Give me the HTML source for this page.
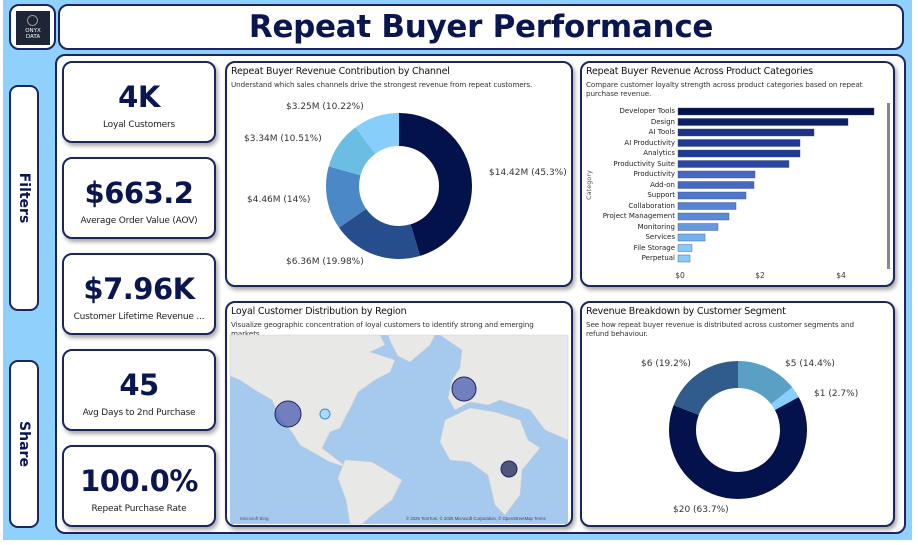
<!DOCTYPE html>
<html><head><meta charset="utf-8"><style>
*{margin:0;padding:0;box-sizing:border-box}
body{width:918px;height:545px;background:#fff;position:relative;overflow:hidden;font-family:"DejaVu Sans","Liberation Sans",sans-serif;color:#222}
.abs{position:absolute}
.bg{left:3px;top:0;width:909px;height:540px;background:#8fd0fc}
.box{position:absolute;background:#fff;border:2px solid #1b2560;border-radius:10px}
.card{position:absolute;background:#fff;border:2px solid #1b2560;border-radius:10px;box-shadow:2px 3px 4px rgba(0,0,0,.35)}
.kv{position:absolute;left:0;right:0;text-align:center;color:#0a1650;font-weight:bold;font-size:29px;letter-spacing:-0.5px}
.kl{position:absolute;left:0;right:0;text-align:center;font-size:9px;color:#222;letter-spacing:-0.2px}
.ct{position:absolute;left:4px;top:3px;font-size:9.5px;color:#111;letter-spacing:-0.2px}
.cs{position:absolute;left:4px;top:17px;font-size:7.2px;color:#333;line-height:9px;letter-spacing:-0.1px}
.lbl{position:absolute;font-size:9px;color:#333;white-space:nowrap}
.tab{position:absolute;background:#fff;border:2px solid #1b2560;border-radius:9px}
.tab span{position:absolute;left:50%;top:50%;transform:translate(-50%,-50%) rotate(90deg);font-weight:bold;font-size:14px;color:#0a1650;white-space:nowrap}
.cat{position:absolute;right:0;font-size:7px;color:#222;text-align:right;white-space:nowrap}
</style></head><body>
<div class="abs bg"></div>
<div class="box" style="left:9px;top:4px;width:47px;height:46px"><div class="abs" style="left:5px;top:5px;width:34px;height:34px;background:#1d2536;color:#fff;font-size:5.5px;text-align:center;line-height:6px;padding-top:17px">ONYX<br>DATA</div><div class="abs" style="left:16px;top:9px;width:11px;height:11px;border:1px solid #999;border-radius:50%"></div></div>
<div class="box" style="left:58px;top:4px;width:846px;height:46px"><div class="abs" style="left:0;right:0;top:0;text-align:center;font-size:31px;font-weight:bold;color:#0a1650;line-height:42px;letter-spacing:-0.3px">Repeat Buyer Performance</div></div>
<div class="tab" style="left:9px;top:85px;width:30px;height:226px"><span>Filters</span></div>
<div class="tab" style="left:9px;top:360px;width:30px;height:168px"><span>Share</span></div>
<div class="box" style="left:55px;top:54px;width:851px;height:480px"></div>

<div class="card" style="left:62px;top:61px;width:154px;height:82px"><div class="kv" style="top:17px">4K</div><div class="kl" style="top:57px">Loyal Customers</div></div>
<div class="card" style="left:62px;top:157px;width:154px;height:82px"><div class="kv" style="top:17px">$663.2</div><div class="kl" style="top:57px">Average Order Value (AOV)</div></div>
<div class="card" style="left:62px;top:253px;width:154px;height:82px"><div class="kv" style="top:17px">$7.96K</div><div class="kl" style="top:57px">Customer Lifetime Revenue ...</div></div>
<div class="card" style="left:62px;top:349px;width:154px;height:82px"><div class="kv" style="top:17px">45</div><div class="kl" style="top:57px">Avg Days to 2nd Purchase</div></div>
<div class="card" style="left:62px;top:445px;width:154px;height:82px"><div class="kv" style="top:17px">100.0%</div><div class="kl" style="top:57px">Repeat Purchase Rate</div></div>

<div class="card" style="left:225px;top:61px;width:348px;height:226px"><div class="ct">Repeat Buyer Revenue Contribution by Channel</div><div class="cs">Understand which sales channels drive the strongest revenue from repeat customers.</div></div>
<div class="card" style="left:580px;top:61px;width:315px;height:226px"><div class="ct">Repeat Buyer Revenue Across Product Categories</div><div class="cs">Compare customer loyalty strength across product categories based on repeat<br>purchase revenue.</div></div>
<div class="card" style="left:225px;top:301px;width:348px;height:226px"><div class="ct">Loyal Customer Distribution by Region</div><div class="cs">Visualize geographic concentration of loyal customers to identify strong and emerging<br>markets.</div></div>
<div class="card" style="left:580px;top:301px;width:315px;height:226px"><div class="ct">Revenue Breakdown by Customer Segment</div><div class="cs">See how repeat buyer revenue is distributed across customer segments and<br>refund behaviour.</div></div>

<svg class="abs" style="left:0;top:0" width="918" height="545">
<g transform="rotate(-90 399 186)" fill="none" stroke-width="33">
<circle cx="399" cy="186" r="56.5" stroke="#03124a" stroke-dasharray="160.8 400" stroke-dashoffset="0"/>
<circle cx="399" cy="186" r="56.5" stroke="#264e8c" stroke-dasharray="70.9 400" stroke-dashoffset="-160.8"/>
<circle cx="399" cy="186" r="56.5" stroke="#4a88c8" stroke-dasharray="49.7 400" stroke-dashoffset="-231.7"/>
<circle cx="399" cy="186" r="56.5" stroke="#6bbde4" stroke-dasharray="37.3 400" stroke-dashoffset="-281.4"/>
<circle cx="399" cy="186" r="56.5" stroke="#87cefa" stroke-dasharray="36.3 400" stroke-dashoffset="-318.7"/>
</g>
<g transform="rotate(-90 738 430)" fill="none" stroke-width="27">
<circle cx="738" cy="430" r="55.5" stroke="#5a9fc4" stroke-dasharray="50.2 400" stroke-dashoffset="0"/>
<circle cx="738" cy="430" r="55.5" stroke="#87cefa" stroke-dasharray="9.4 400" stroke-dashoffset="-50.2"/>
<circle cx="738" cy="430" r="55.5" stroke="#03124a" stroke-dasharray="222.1 400" stroke-dashoffset="-59.6"/>
<circle cx="738" cy="430" r="55.5" stroke="#2f5c8a" stroke-dasharray="67 400" stroke-dashoffset="-281.7"/>
</g>
<!-- map -->
<rect x="230" y="335" width="338" height="189" fill="#a6c9ee"/>
<g fill="#e8e8e6" stroke="#d0d0d0" stroke-width=".6">
<path d="M230 335 L380 335 L385 345 L370 352 L395 360 L390 372 L375 380 L358 392 L352 405 L345 418 L340 428 L330 432 L322 448 L340 462 L348 468 L330 462 L300 445 L292 432 L280 418 L272 400 L255 390 L240 380 L230 376Z"/>
<path d="M388 335 L435 335 L430 345 L410 362 L398 356 L392 345Z"/>
<path d="M345 460 L372 462 L402 480 L392 500 L372 515 L362 524 L350 524 L346 500 L338 478Z"/>
<path d="M440 335 L568 335 L568 440 L545 430 L530 410 L515 405 L500 400 L488 405 L470 402 L455 410 L448 398 L452 380 L460 368 L462 350Z"/>
<path d="M445 420 L470 408 L495 412 L520 420 L528 440 L540 448 L522 470 L520 495 L505 515 L495 505 L488 475 L470 462 L450 460 L440 442Z"/>
</g>
<g stroke="#1b2560" stroke-width="1">
<circle cx="288" cy="414" r="13" fill="#4a5cb0" fill-opacity=".75"/>
<circle cx="325" cy="414" r="5" fill="#a8dcff" stroke="#4a88c8"/>
<circle cx="464" cy="389" r="12" fill="#4a5cb0" fill-opacity=".75"/>
<circle cx="509" cy="469" r="8" fill="#2a3060" fill-opacity=".8"/>
</g>
<text x="406" y="520" font-size="4.3" fill="#444" font-family="Liberation Sans">© 2025 TomTom, © 2025 Microsoft Corporation, © OpenStreetMap  Terms</text>
<text x="240" y="520" font-size="4.5" fill="#555" font-family="Liberation Sans">Microsoft Bing</text>
<!-- bars -->
<g stroke="#3a4a80" stroke-width=".4">
<rect x="678" y="108" width="196" height="7" fill="#03124a"/>
<rect x="678" y="118.5" width="170" height="7" fill="#0d1f66"/>
<rect x="678" y="129" width="136" height="7" fill="#1c3287"/>
<rect x="678" y="139.5" width="122" height="7" fill="#203a93"/>
<rect x="678" y="150" width="122" height="7" fill="#203a93"/>
<rect x="678" y="160.5" width="111" height="7" fill="#2a48a3"/>
<rect x="678" y="171" width="77" height="7" fill="#4668c0"/>
<rect x="678" y="181.5" width="76" height="7" fill="#4668c0"/>
<rect x="678" y="192" width="68" height="7" fill="#4f78cc"/>
<rect x="678" y="202.5" width="58" height="7" fill="#5683d2"/>
<rect x="678" y="213" width="51" height="7" fill="#5a8bd6"/>
<rect x="678" y="223.5" width="40" height="7" fill="#6798dc"/>
<rect x="678" y="234" width="27" height="7" fill="#73b2ec"/>
<rect x="678" y="244.5" width="14" height="7" fill="#86cbfa"/>
<rect x="678" y="255" width="12" height="7" fill="#86cbfa"/>
</g>
<rect x="887" y="103" width="3" height="166" fill="#888"/>
<text x="591" y="185" font-size="6.5" fill="#555" transform="rotate(-90 591 185)" text-anchor="middle" font-family="DejaVu Sans">Category</text>
<g font-size="7.5" fill="#333" font-family="DejaVu Sans" text-anchor="middle"><text x="680" y="278">$0</text><text x="760" y="278">$2</text><text x="841" y="278">$4</text></g>
</svg>
<div class="abs" style="left:580px;top:107px;width:95px">
<div class="cat" style="top:0">Developer Tools</div><div class="cat" style="top:10.5px">Design</div><div class="cat" style="top:21px">AI Tools</div><div class="cat" style="top:31.5px">AI Productivity</div><div class="cat" style="top:42px">Analytics</div><div class="cat" style="top:52.5px">Productivity Suite</div><div class="cat" style="top:63px">Productivity</div><div class="cat" style="top:73.5px">Add-on</div><div class="cat" style="top:84px">Support</div><div class="cat" style="top:94.5px">Collaboration</div><div class="cat" style="top:105px">Project Management</div><div class="cat" style="top:115.5px">Monitoring</div><div class="cat" style="top:126px">Services</div><div class="cat" style="top:136.5px">File Storage</div><div class="cat" style="top:147px">Perpetual</div>
</div>
<div class="lbl" style="left:286px;top:102px">$3.25M (10.22%)</div>
<div class="lbl" style="left:244px;top:134px">$3.34M (10.51%)</div>
<div class="lbl" style="left:489px;top:168px">$14.42M (45.3%)</div>
<div class="lbl" style="left:247px;top:195px">$4.46M (14%)</div>
<div class="lbl" style="left:286px;top:257px">$6.36M (19.98%)</div>
<div class="lbl" style="left:641px;top:359px">$6 (19.2%)</div>
<div class="lbl" style="left:785px;top:359px">$5 (14.4%)</div>
<div class="lbl" style="left:814px;top:389px">$1 (2.7%)</div>
<div class="lbl" style="left:673px;top:505px">$20 (63.7%)</div>
</body></html>
